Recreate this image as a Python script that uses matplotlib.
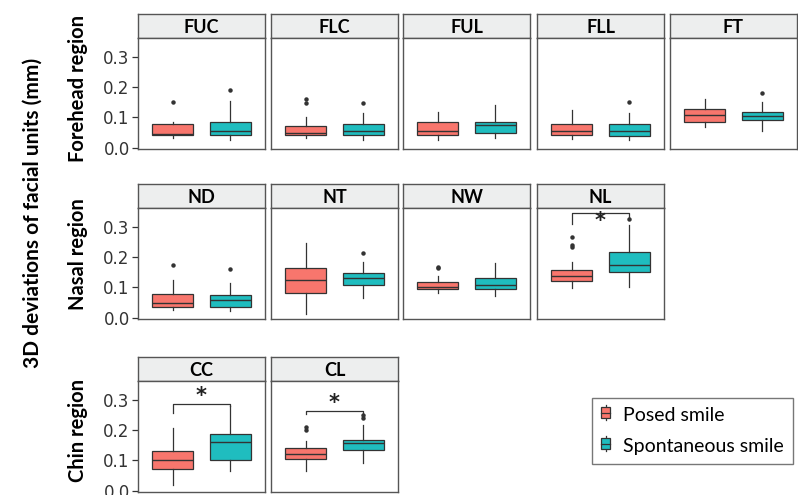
import matplotlib
matplotlib.use("Agg")
import matplotlib.pyplot as plt
from matplotlib.legend_handler import HandlerBase
from matplotlib.patches import Rectangle
from matplotlib.lines import Line2D

# facial units, grouped by region row
rows = [["FUC", "FLC", "FUL", "FLL", "FT"],
        ["ND", "NT", "NW", "NL"],
        ["CC", "CL"]]
region_labels = ["Forehead region", "Nasal region", "Chin region"]

units = ["FUC", "FLC", "FUL", "FLL", "FT", "ND", "NT", "NW", "NL", "CC", "CL"]

# box stats (mm)
posed_lo = [0.031, 0.033, 0.025, 0.028, 0.068, 0.026, 0.013, 0.082, 0.098, 0.020, 0.066]
posed_q1 = [0.042, 0.042, 0.042, 0.042, 0.086, 0.035, 0.082, 0.094, 0.122, 0.073, 0.106]
posed_med = [0.044, 0.048, 0.055, 0.054, 0.107, 0.049, 0.126, 0.101, 0.138, 0.103, 0.122]
posed_q3 = [0.079, 0.072, 0.086, 0.078, 0.128, 0.077, 0.163, 0.117, 0.158, 0.131, 0.141]
posed_hi = [0.086, 0.103, 0.117, 0.125, 0.160, 0.123, 0.248, 0.138, 0.184, 0.208, 0.164]
posed_out = [[0.15], [0.147, 0.16], [], [], [], [0.175], [], [0.163, 0.168],
             [0.232, 0.239, 0.267], [], [0.20, 0.21]]

spont_lo = [0.025, 0.025, 0.031, 0.025, 0.056, 0.021, 0.065, 0.071, 0.101, 0.064, 0.092]
spont_q1 = [0.042, 0.042, 0.048, 0.040, 0.090, 0.035, 0.108, 0.095, 0.150, 0.102, 0.134]
spont_med = [0.056, 0.055, 0.074, 0.054, 0.105, 0.060, 0.131, 0.107, 0.175, 0.161, 0.157]
spont_q3 = [0.086, 0.079, 0.086, 0.079, 0.118, 0.074, 0.148, 0.131, 0.217, 0.188, 0.168]
spont_hi = [0.153, 0.114, 0.140, 0.114, 0.150, 0.115, 0.184, 0.181, 0.305, 0.279, 0.216]
spont_out = [[0.19], [0.147], [], [0.15], [0.18], [0.16], [0.215], [], [0.326], [], [0.24, 0.249]]

# significance brackets
sig_units = ["NL", "CC", "CL"]
sig_bar_y = [0.344, 0.287, 0.262]
sig_left_y = [0.309, 0.255, 0.254]
sig_right_y = [0.333, 0.279, 0.249]
sig_star_y = [0.318, 0.314, 0.288]

POSED = "#F8766D"
SPONT = "#1FBDBF"
EDGE = "#333333"
FRAME = "#555555"

W, H = 798, 495
fig = plt.figure(figsize=(W / 100, H / 100), dpi=100)


def px_axes(x0, y0, w, h):
    return fig.add_axes([x0 / W, 1 - (y0 + h) / H, w / W, h / H])


col_x = [138, 271, 403, 537, 670]
row_top = [14, 184, 357]
panel_w = 127
strip_h = 24
plot_h = 111


def stats(i, lo, q1, med, q3, hi, out):
    return dict(whislo=lo[i], q1=q1[i], med=med[i], q3=q3[i], whishi=hi[i], fliers=out[i])


for r, row in enumerate(rows):
    for c, unit in enumerate(row):
        i = units.index(unit)
        x0 = col_x[c]
        # strip
        sax = px_axes(x0, row_top[r], panel_w, strip_h)
        sax.set_facecolor("#EDEEEE")
        sax.set_xticks([])
        sax.set_yticks([])
        for s in sax.spines.values():
            s.set_color(FRAME)
            s.set_linewidth(1)
        sax.text(0.5, 0.45, unit, transform=sax.transAxes, ha="center", va="center",
                 fontsize=13, fontweight="bold", family="Lato")

        ax = px_axes(x0, row_top[r] + strip_h, panel_w, plot_h)
        bs = [stats(i, posed_lo, posed_q1, posed_med, posed_q3, posed_hi, posed_out),
              stats(i, spont_lo, spont_q1, spont_med, spont_q3, spont_hi, spont_out)]
        bp = ax.bxp(bs, positions=[1, 2], widths=0.72, patch_artist=True, showcaps=False,
                    boxprops=dict(edgecolor=EDGE, linewidth=0.9),
                    medianprops=dict(color=EDGE, linewidth=1.0),
                    whiskerprops=dict(color=EDGE, linewidth=0.9),
                    flierprops=dict(marker="o", markersize=2.2, markerfacecolor=EDGE,
                                    markeredgecolor=EDGE))
        for patch, col in zip(bp["boxes"], [POSED, SPONT]):
            patch.set_facecolor(col)
            patch.set_zorder(2)

        if unit in sig_units:
            k = sig_units.index(unit)
            ax.plot([1, 1, 2, 2], [sig_left_y[k], sig_bar_y[k], sig_bar_y[k], sig_right_y[k]],
                    color=EDGE, linewidth=0.9)
            ax.text(1.5, sig_star_y[k], "*", ha="center", va="center", fontsize=15,
                    fontweight="bold", family="DejaVu Sans", color="#222222")

        ax.set_xlim(0.4, 2.6)
        ax.set_ylim(-0.004, 0.362)
        ax.set_xticks([])
        ax.set_yticks([0.0, 0.1, 0.2, 0.3])
        for s in ax.spines.values():
            s.set_color(FRAME)
            s.set_linewidth(1)
        if c == 0:
            ax.set_yticklabels(["0.0", "0.1", "0.2", "0.3"])
            ax.tick_params(axis="y", length=4, width=0.9, color=EDGE, labelsize=12,
                           labelcolor="#333333", pad=2)
        else:
            ax.tick_params(axis="y", left=False, labelleft=False)

# region labels
region_y = [89, 254, 430]
for lab, yc in zip(region_labels, region_y):
    fig.text(78 / W, 1 - yc / H, lab, rotation=90, ha="center", va="center",
             fontsize=14.5, fontweight="bold", family="Lato")

fig.text(33 / W, 1 - 213 / H, "3D deviations of facial units (mm)", rotation=90,
         ha="center", va="center", fontsize=15, fontweight="bold", family="Lato")


class MiniBox(HandlerBase):
    def __init__(self, color):
        super().__init__()
        self.color = color

    def create_artists(self, legend, orig_handle, xd, yd, width, height, fontsize, trans):
        cx = xd + width / 2
        bh = height * 0.75
        by = yd + (height - bh) / 2
        line = Line2D([cx, cx], [yd, yd + height], color=EDGE,
                      linewidth=0.9, transform=trans)
        rect = Rectangle((xd, by), width, bh, facecolor=self.color, edgecolor=EDGE,
                         linewidth=0.9, transform=trans)
        med = Line2D([xd, xd + width], [yd + height / 2] * 2, color=EDGE, linewidth=0.9,
                     transform=trans)
        return [line, rect, med]


h1 = Rectangle((0, 0), 1, 1)
h2 = Rectangle((0, 0), 1, 1)
leg = fig.legend([h1, h2], ["Posed smile", "Spontaneous smile"],
                 handler_map={h1: MiniBox(POSED), h2: MiniBox(SPONT)},
                 loc="upper left", bbox_to_anchor=(592 / W, 1 - 398 / H),
                 prop=dict(family="Lato", size=14), frameon=True, fancybox=False,
                 edgecolor=FRAME, borderpad=0.45, labelspacing=0.7,
                 handlelength=0.5, handleheight=0.8, handletextpad=0.65, borderaxespad=0)
leg.get_frame().set_linewidth(1)

fig.savefig("out.png", dpi=100)
